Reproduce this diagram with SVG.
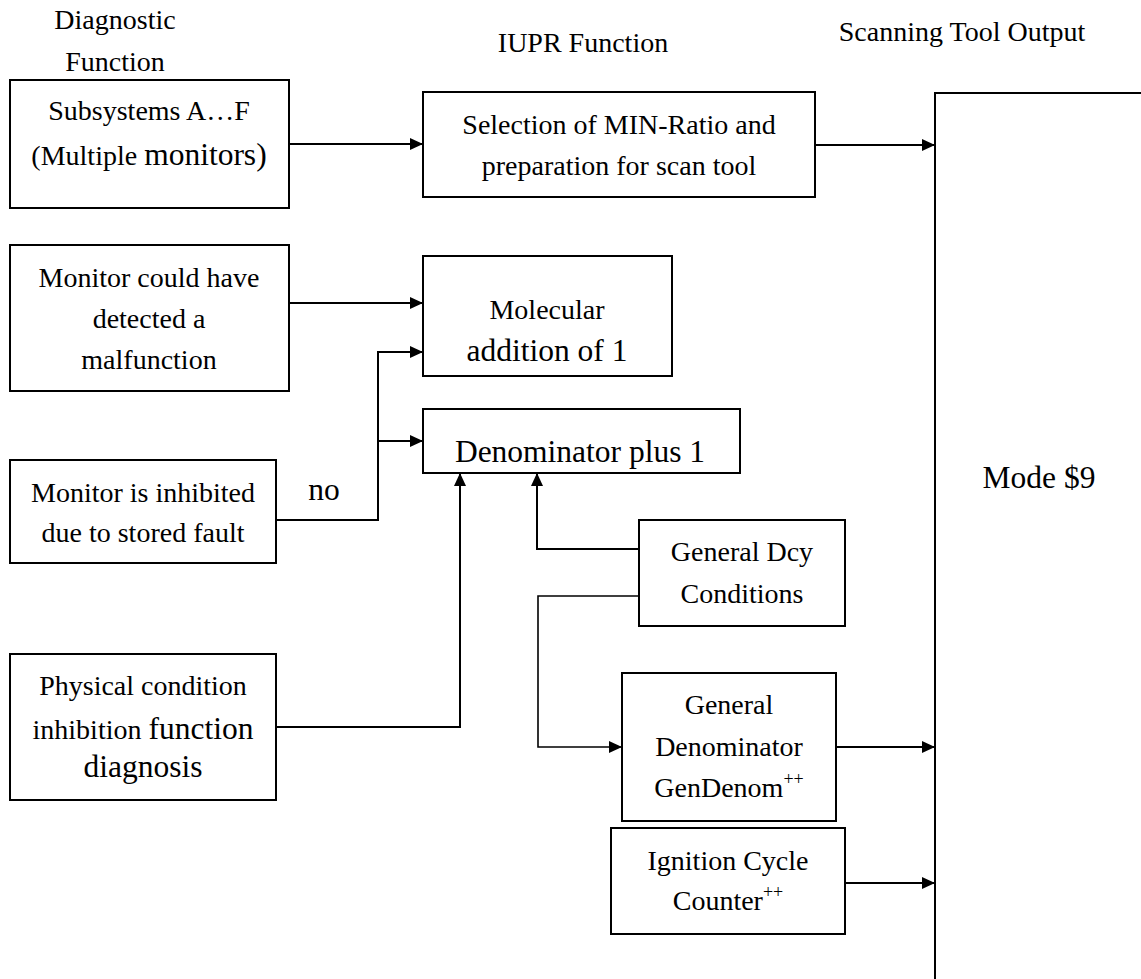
<svg xmlns="http://www.w3.org/2000/svg" width="1141" height="979" viewBox="0 0 1141 979">
<style>
text{font-family:"Liberation Serif","Times New Roman",serif;font-size:28px;fill:#000;text-anchor:middle}
.big{font-size:31.5px}
.sup{font-size:18px}
.box{fill:#fff;stroke:#000;stroke-width:2}
.c{fill:none;stroke:#000;stroke-width:2}
.t{fill:none;stroke:#000;stroke-width:1.6}
</style>
<defs>
<marker id="ah" markerUnits="userSpaceOnUse" markerWidth="14" markerHeight="12" refX="13" refY="6" orient="auto">
<path d="M0,0 L13,6 L0,12 z" fill="#000"/>
</marker>
</defs>
<rect width="1141" height="979" fill="#fff"/>
<g id="headers">
<text x="115" y="29">Diagnostic</text>
<text x="115" y="71">Function</text>
<text x="583" y="52">IUPR Function</text>
<text x="962" y="41">Scanning Tool Output</text>
</g>
<g id="connectors">
<path class="c" d="M289,144 H423" marker-end="url(#ah)"/>
<path class="c" d="M815,145 H935" marker-end="url(#ah)"/>
<path class="c" d="M289,303 H423" marker-end="url(#ah)"/>
<path class="c" d="M276,520 H378 V352 H423" marker-end="url(#ah)"/>
<path class="c" d="M378,441 H423" marker-end="url(#ah)"/>
<path class="c" d="M276,727 H460 V473" marker-end="url(#ah)"/>
<path class="c" d="M639,549 H537 V473" marker-end="url(#ah)"/>
<path class="t" d="M639,596 H538 V747 H622" marker-end="url(#ah)"/>
<path class="c" d="M836,747 H935" marker-end="url(#ah)"/>
<path class="c" d="M845,883 H935" marker-end="url(#ah)"/>
</g>
<g id="n-subsystems">
<rect class="box" x="10" y="80" width="279" height="128"/>
<text x="149" y="120">Subsystems A…F</text>
<text x="149" y="165">(Multiple <tspan class="big">monitors)</tspan></text>
</g>
<g id="n-selection">
<rect class="box" x="423" y="92" width="392" height="105"/>
<text x="619" y="134">Selection of MIN-Ratio and</text>
<text x="619" y="175">preparation for scan tool</text>
</g>
<g id="n-mode">
<rect class="box" x="935" y="93" width="230" height="900"/>
<text class="big" x="1039" y="488">Mode $9</text>
</g>
<g id="n-could">
<rect class="box" x="10" y="245" width="279" height="146"/>
<text x="149" y="287">Monitor could have</text>
<text x="149" y="328">detected a</text>
<text x="149" y="369">malfunction</text>
</g>
<g id="n-molecular">
<rect class="box" x="423" y="256" width="249" height="120"/>
<text x="547" y="319">Molecular</text>
<text class="big" x="547" y="361">addition of 1</text>
</g>
<g id="n-denominator">
<rect class="box" x="423" y="409" width="317" height="64"/>
<text class="big" x="580" y="462">Denominator plus 1</text>
</g>
<g id="n-inhibited">
<rect class="box" x="10" y="460" width="266" height="103"/>
<text x="143" y="502">Monitor is inhibited</text>
<text x="143" y="542">due to stored fault</text>
</g>
<g id="l-no">
<text class="big" x="324" y="500">no</text>
</g>
<g id="n-physical">
<rect class="box" x="10" y="654" width="266" height="146"/>
<text x="143" y="695">Physical condition</text>
<text x="143" y="739">inhibition <tspan class="big">function</tspan></text>
<text class="big" x="143" y="777">diagnosis</text>
</g>
<g id="n-dcy">
<rect class="box" x="639" y="520" width="206" height="106"/>
<text x="742" y="561">General Dcy</text>
<text x="742" y="603">Conditions</text>
</g>
<g id="n-gendenom">
<rect class="box" x="622" y="673" width="214" height="148"/>
<text x="729" y="714">General</text>
<text x="729" y="756">Denominator</text>
<text x="729" y="797">GenDenom<tspan class="sup" dy="-12">++</tspan></text>
</g>
<g id="n-ignition">
<rect class="box" x="611" y="828" width="234" height="106"/>
<text x="728" y="870">Ignition Cycle</text>
<text x="728" y="910">Counter<tspan class="sup" dy="-12">++</tspan></text>
</g>
</svg>
